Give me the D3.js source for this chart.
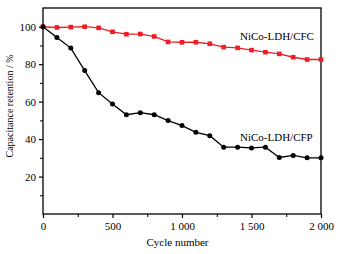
<!DOCTYPE html>
<html>
<head>
<meta charset="utf-8">
<script src="https://cdn.jsdelivr.net/npm/d3@7"></script>
<style>
  body { margin: 0; background: #fff; }
  svg text { font-family: "Liberation Serif", "DejaVu Serif", serif; }
</style>
</head>
<body>
<div id="chart"></div>
<script>
// cycle numbers shared by both series
const cycles = [0, 100, 200, 300, 400, 500, 600, 700, 800, 900, 1000,
    1100, 1200, 1300, 1400, 1500, 1600, 1700, 1800, 1900, 2000];
const cfc = [100, 99.6, 99.8, 100, 99.4, 97.3, 96, 96.1, 94.8, 91.9, 91.7,
    91.7, 90.9, 89.1, 88.7, 87.5, 86.4, 85.5, 83.7, 82.5, 82.5];
const cfp = [100, 94.3, 88.6, 76.6, 64.8, 58.8, 53, 54.1, 53, 49.9, 47.2,
    43.6, 41.8, 35.7, 35.7, 35.3, 35.7, 30.2, 31.3, 30, 30];
const xTicks = [0, 500, 1000, 1500, 2000];
const yTicks = [20, 40, 60, 80, 100];

const margin = { top: 8, right: 22, bottom: 40, left: 43 };
const width = 343 - margin.left - margin.right;
const height = 254 - margin.top - margin.bottom;

const svg = d3.select("#chart")
    .append("svg")
    .attr("width", 343)
    .attr("height", 254);

const group = svg.append("g")
    .attr("transform", `translate(${margin.left}, ${margin.top})`);

const xScale = d3.scaleLinear().domain([0, 2000]).range([0, width]);
const yScale = d3.scaleLinear().domain([0, 110]).range([height, 0]);

// frame
group.append("rect")
    .attr("width", width)
    .attr("height", height)
    .attr("fill", "none")
    .attr("stroke", "#000")
    .attr("stroke-width", 1.3);

// minor ticks
group.append("g")
    .attr("transform", `translate(0, ${height})`)
    .call(d3.axisBottom(xScale).tickValues([250, 750, 1250, 1750]).tickSize(3).tickFormat(""))
    .call(g => g.select(".domain").remove());
group.append("g")
    .call(d3.axisLeft(yScale).tickValues([10, 30, 50, 70, 90]).tickSize(3).tickFormat(""))
    .call(g => g.select(".domain").remove());

// major ticks
const fmt = d => d >= 1000 ? Math.floor(d / 1000) + " " + String(d % 1000).padStart(3, "0") : String(d);
const xAxis = group.append("g")
    .attr("transform", `translate(0, ${height})`)
    .call(d3.axisBottom(xScale).tickValues(xTicks).tickSize(4).tickPadding(4).tickFormat(fmt));
const yAxis = group.append("g")
    .call(d3.axisLeft(yScale).tickValues(yTicks).tickSize(4).tickPadding(3));
[xAxis, yAxis].forEach(a => {
    a.select(".domain").remove();
    a.selectAll("text").style("font-size", "11px").attr("fill", "#000")
        .style("font-family", '"Liberation Serif", serif');
    a.selectAll("line").attr("stroke-width", 1.2);
});

const line = d3.line()
    .x((d, i) => xScale(cycles[i]))
    .y(d => yScale(d));

// CFC series (red squares)
group.append("path")
    .datum(cfc)
    .attr("d", line)
    .attr("fill", "none")
    .attr("stroke", "#ee1c25")
    .attr("stroke-width", 1.3);
group.selectAll(".sq")
    .data(cfc)
    .enter()
    .append("rect")
    .attr("class", "sq")
    .attr("x", (d, i) => xScale(cycles[i]) - 2.3)
    .attr("y", d => yScale(d) - 2.3)
    .attr("width", 4.6)
    .attr("height", 4.6)
    .attr("fill", "#ee1c25");

// CFP series (black circles)
group.append("path")
    .datum(cfp)
    .attr("d", line)
    .attr("fill", "none")
    .attr("stroke", "#000")
    .attr("stroke-width", 1.3);
group.selectAll(".dot")
    .data(cfp)
    .enter()
    .append("circle")
    .attr("class", "dot")
    .attr("cx", (d, i) => xScale(cycles[i]))
    .attr("cy", d => yScale(d))
    .attr("r", 2.5)
    .attr("fill", "#000");

// series labels
group.append("text")
    .text("NiCo-LDH/CFC")
    .attr("x", 197)
    .attr("y", 32)
    .style("font-size", "11px");
group.append("text")
    .text("NiCo-LDH/CFP")
    .attr("x", 197)
    .attr("y", 133)
    .style("font-size", "11px");

// axis titles
group.append("text")
    .text("Cycle number")
    .attr("x", 134.5)
    .attr("y", height + 32)
    .style("font-size", "11px")
    .style("text-anchor", "middle");
group.append("text")
    .text("Capacitance retention / %")
    .attr("transform", `translate(-30, 98) rotate(-90)`)
    .style("font-size", "10px")
    .style("text-anchor", "middle");
</script>
</body>
</html>
